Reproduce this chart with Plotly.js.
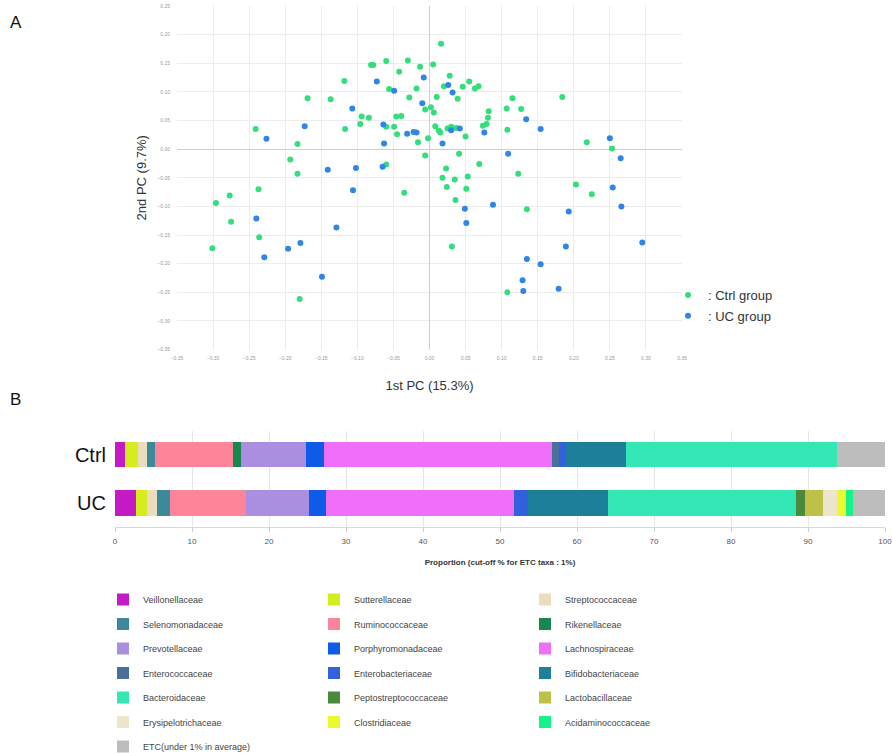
<!DOCTYPE html>
<html>
<head>
<meta charset="utf-8">
<script src="https://cdn.plot.ly/plotly-3.0.1.min.js"></script>
<style>html,body{margin:0;padding:0;background:#fff;overflow:hidden;width:892px;height:753px;}#chart{width:892px;height:770px;}</style>
</head>
<body>
<div id="chart"></div>
<script>
// ---------- Panel A: PCA scores ----------
var ctrlX = [0.016,-0.081,-0.078,-0.060,-0.030,-0.042,-0.013,0.005,0.028,-0.118,-0.056,-0.018,0.020,0.046,0.055,0.063,0.068,-0.169,-0.137,-0.028,0.010,0.039,0.115,0.184,-0.006,0.002,0.006,-0.094,-0.084,-0.046,-0.039,0.082,0.081,0.107,0.127,-0.096,-0.060,-0.049,0.008,0.013,0.015,0.025,0.030,0.037,0.050,0.074,0.079,0.108,-0.241,-0.117,-0.045,-0.002,-0.016,-0.183,-0.006,-0.193,-0.060,-0.183,0.023,0.018,0.035,0.053,0.041,0.069,0.123,0.218,0.253,0.024,0.051,-0.277,-0.237,-0.035,-0.296,0.036,0.135,0.203,0.225,-0.275,-0.236,-0.301,0.031,0.108,-0.180];
var ctrlY = [0.184,0.147,0.147,0.154,0.155,0.135,0.144,0.148,0.128,0.119,0.105,0.106,0.110,0.109,0.118,0.106,0.110,0.089,0.087,0.090,0.091,0.088,0.089,0.091,0.069,0.073,0.064,0.057,0.055,0.057,0.058,0.066,0.055,0.071,0.070,0.044,0.039,0.039,0.040,0.032,0.029,0.036,0.039,0.037,0.022,0.041,0.044,0.034,0.035,0.035,0.026,0.019,0.012,0.009,-0.011,-0.018,-0.027,-0.043,-0.034,-0.050,-0.053,-0.048,-0.008,-0.026,-0.043,0.012,0.001,-0.066,-0.069,-0.081,-0.070,-0.076,-0.094,-0.089,-0.105,-0.062,-0.079,-0.127,-0.154,-0.173,-0.170,-0.250,-0.262];
var ucX = [-0.073,-0.008,-0.049,0.026,0.032,-0.107,-0.010,-0.173,-0.064,-0.031,-0.022,-0.018,-0.226,-0.063,0.018,0.030,0.042,0.076,0.134,0.154,0.250,0.265,0.109,-0.141,-0.102,-0.065,-0.106,0.049,0.088,0.051,0.254,0.266,0.193,-0.240,-0.129,-0.196,-0.179,-0.229,-0.149,0.189,0.295,0.135,0.154,0.129,0.130,0.179];
var ucY = [0.118,0.125,0.102,0.112,0.099,0.071,0.080,0.040,0.043,0.027,0.030,0.029,0.018,0.010,0.010,0.033,0.036,0.029,0.052,0.035,0.019,-0.016,-0.008,-0.036,-0.033,-0.031,-0.072,-0.104,-0.097,-0.129,-0.067,-0.100,-0.109,-0.121,-0.137,-0.174,-0.164,-0.189,-0.223,-0.170,-0.163,-0.192,-0.201,-0.229,-0.248,-0.244];
var groupNames = [': Ctrl group', ': UC group'];
var groupColors = ['#35de7c', '#2f86e8'];
var pcXLabel = '1st PC (15.3%)';
var pcYLabel = '2nd PC (9.7%)';

// ---------- Panel B: family composition ----------
var samples = ['Ctrl', 'UC'];
var families = ['Veillonellaceae','Sutterellaceae','Streptococcaceae','Selenomonadaceae','Ruminococcaceae','Rikenellaceae','Prevotellaceae','Porphyromonadaceae','Lachnospiraceae','Enterococcaceae','Enterobacteriaceae','Bifidobacteriaceae','Bacteroidaceae','Peptostreptococcaceae','Lactobacillaceae','Erysipelotrichaceae','Clostridiaceae','Acidaminococcaceae','ETC(under 1% in average)'];
var ctrlPct = [1.3,1.7,1.1,1.1,10.1,1.0,8.5,2.3,29.7,0.9,0.9,7.8,27.4,0,0,0,0,0,6.2];
var ucPct   = [2.7,1.4,1.4,1.6,9.9,0,8.2,2.2,24.4,0,1.8,10.4,24.5,1.1,2.4,1.8,1.1,1.0,4.1];
var familyColors = ['#c51bc4','#d5ec1f','#eadcbd','#3a8a9b','#fd8499','#17864f','#aa8ee0','#0d5be6','#ef6ffa','#4a6f98','#3360dc','#1d7f99','#34e8b6','#4b893c','#bdc148','#ede6cd','#ebfa2e','#16f38a','#bdbdbd'];
var barAxisTitle = '<b>Proportion (cut-off % for ETC taxa : 1%)</b>';

// Layout canvas is slightly taller than the 753px window so legends are never clamped.
var W = 892, H = 770;
function px(x){ return x / W; }
function py(y){ return 1 - y / H; }

var traces = [];
traces.push({type:'scatter', mode:'markers', x:ctrlX, y:ctrlY, name:groupNames[0],
  marker:{color:groupColors[0], size:6}, xaxis:'x', yaxis:'y', legend:'legend4', legendgroup:'ctrl'});
traces.push({type:'scatter', mode:'markers', x:ucX, y:ucY, name:groupNames[1],
  marker:{color:groupColors[1], size:6}, xaxis:'x', yaxis:'y', legend:'legend4', legendgroup:'uc'});

var legendIds = ['legend','legend2','legend3'];
families.forEach(function(f, i){
  traces.push({type:'bar', orientation:'h', name:f,
    x:[ctrlPct[i] || null, ucPct[i] || null], y:samples,
    marker:{color:familyColors[i], line:{width:0}},
    xaxis:'x2', yaxis:'y2', legend:legendIds[i % 3], legendgroup:'g'+i,
    hoverinfo:'name+x'});
});

var famFont = {family:'Liberation Sans Narrow, Liberation Sans, Arial, sans-serif', size:9, color:'#444'};
var famLegend = function(xp){
  return {x:px(xp), y:py(585), xanchor:'left', yanchor:'top', orientation:'v',
    font:famFont, tracegroupgap:5.5, bgcolor:'rgba(0,0,0,0)', borderwidth:0, traceorder:'grouped'};
};

var tickFontTiny = {family:'Liberation Sans, Arial, sans-serif', size:5, color:'#9a9a9a'};

var layout = {
  width:W, height:H,
  margin:{l:0, r:0, t:0, b:0},
  paper_bgcolor:'#fff', plot_bgcolor:'#fff',
  font:{family:'Liberation Sans, Arial, sans-serif', color:'#333'},
  showlegend:true,
  barmode:'stack', bargap:0.47,
  xaxis:{domain:[px(177), px(682)], range:[-0.35, 0.35], dtick:0.05, tick0:0, tickformat:'.2f',
    showgrid:true, gridcolor:'#ececec', zeroline:true, zerolinecolor:'#cfcfcf', zerolinewidth:1,
    showline:false, ticks:'', tickfont:tickFontTiny, ticklabelstandoff:4, automargin:false,
    title:{text:pcXLabel, font:{size:13, color:'#333'}, standoff:21}, anchor:'y'},
  yaxis:{domain:[py(349.5), py(6)], range:[-0.35, 0.25], dtick:0.05, tick0:0, tickformat:'.2f',
    showgrid:true, gridcolor:'#ececec', zeroline:true, zerolinecolor:'#cfcfcf', zerolinewidth:1,
    showline:false, ticks:'', tickfont:tickFontTiny, ticklabelstandoff:6, automargin:false,
    title:{text:pcYLabel, font:{size:13, color:'#333'}, standoff:7}, anchor:'x'},
  xaxis2:{domain:[px(115), px(885)], range:[0, 100], dtick:10, anchor:'y2',
    showgrid:true, gridcolor:'#e6e6e6', zeroline:false, showline:true, linecolor:'#d9d9d9',
    ticks:'outside', ticklen:4, tickcolor:'#cfcfcf', tickfont:{size:8, color:'#555'}, automargin:false,
    ticklabelstandoff:2, ticklabeloverflow:'allow',
    title:{text:barAxisTitle, font:{size:8, color:'#333'}, standoff:14}},
  yaxis2:{domain:[py(527), py(430.5)], anchor:'x2', type:'category', autorange:'reversed',
    showgrid:false, zeroline:false, showline:false, ticks:'', ticklabelstandoff:8,
    tickfont:{size:20, color:'#111'}, automargin:false},
  legend:famLegend(103),
  legend2:famLegend(314),
  legend3:famLegend(525),
  legend4:{x:px(668), y:py(280), xanchor:'left', yanchor:'top', orientation:'v',
    font:{size:13, color:'#333'}, tracegroupgap:1, bgcolor:'rgba(0,0,0,0)', borderwidth:0},
  annotations:[
    {text:'A', x:px(8), y:py(22), xref:'paper', yref:'paper', xanchor:'left', yanchor:'middle', showarrow:false, font:{size:17, color:'#111'}},
    {text:'B', x:px(8), y:py(400), xref:'paper', yref:'paper', xanchor:'left', yanchor:'middle', showarrow:false, font:{size:17, color:'#111'}}
  ]
};

Plotly.newPlot('chart', traces, layout, {displayModeBar:false, staticPlot:true});
</script>
</body>
</html>
